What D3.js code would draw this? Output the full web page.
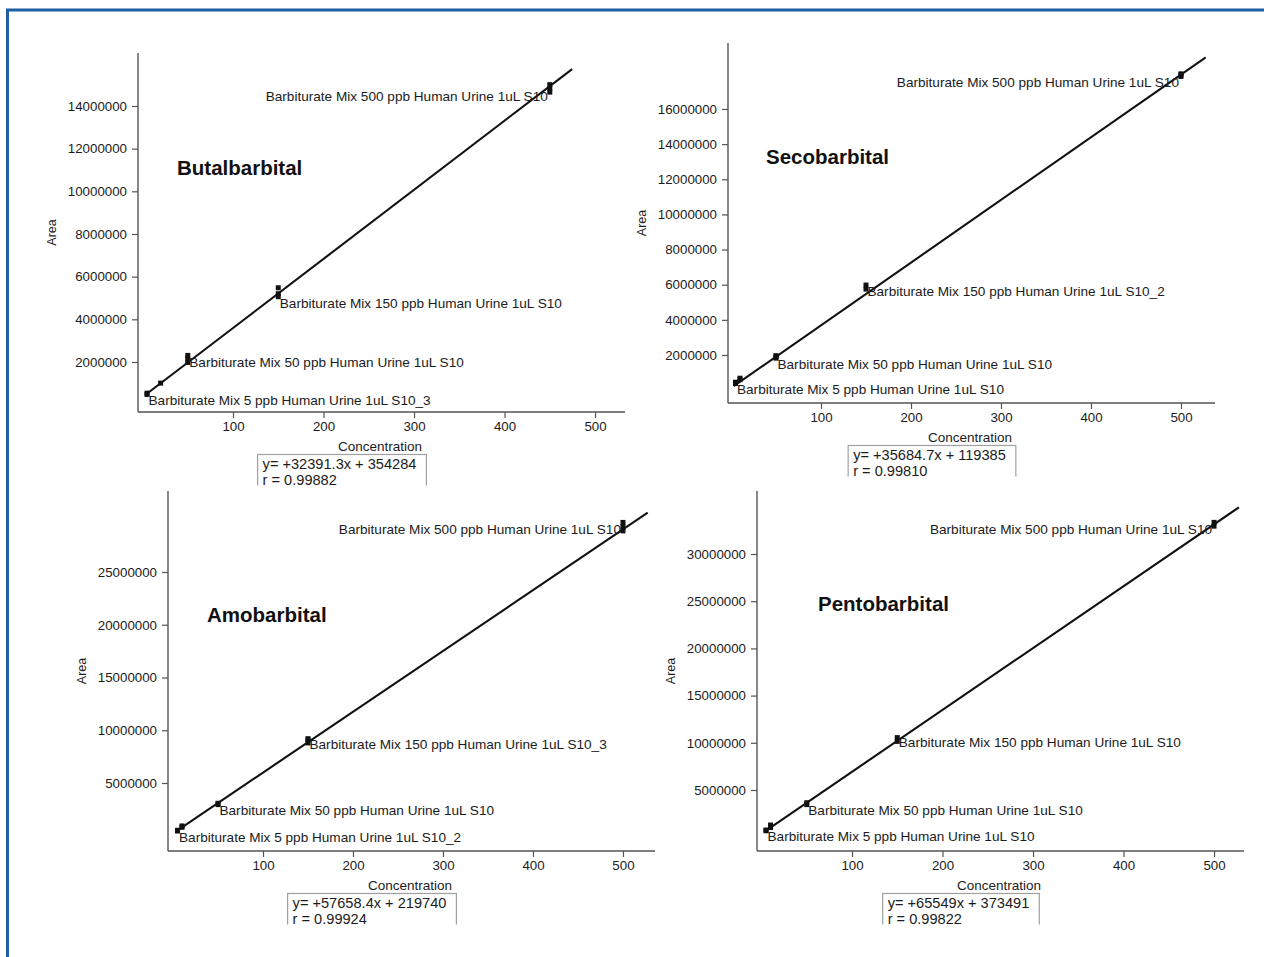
<!DOCTYPE html>
<html>
<head>
<meta charset="utf-8">
<script src="https://cdn.jsdelivr.net/npm/d3@7"></script>
<style>
  body { margin: 0; background: #fff; }
  svg { display: block; }
</style>
</head>
<body>
<svg id="chart" width="1264" height="957"></svg>
<script>
// ---- Calibration data: concentration (ppb) vs. peak area ----
const xTickValues = [100, 200, 300, 400, 500];

const butalConc = [5, 20, 50, 150, 450];
const butalArea = [[480000, 540000], [1010000], [1980000, 2150000, 2310000], [5060000, 5200000, 5480000], [14650000, 14820000, 15000000]];
const butalFit = [32391.3, 354284];
const butalR = "0.99882";
const butalYTicks = [2000000, 4000000, 6000000, 8000000, 10000000, 12000000, 14000000];
const butalLabels = ["Barbiturate Mix 5 ppb Human Urine 1uL S10_3", null, "Barbiturate Mix 50 ppb Human Urine 1uL S10", "Barbiturate Mix 150 ppb Human Urine 1uL S10", "Barbiturate Mix 500 ppb Human Urine 1uL S10"];

const secoConc = [5, 10, 50, 150, 500];
const secoArea = [[380000, 450000], [600000, 680000], [1820000, 1900000, 1960000], [5750000, 5980000], [17850000, 17960000, 18000000]];
const secoFit = [35684.7, 119385];
const secoR = "0.99810";
const secoYTicks = [2000000, 4000000, 6000000, 8000000, 10000000, 12000000, 14000000, 16000000];
const secoLabels = ["Barbiturate Mix 5 ppb Human Urine 1uL S10", null, "Barbiturate Mix 50 ppb Human Urine 1uL S10", "Barbiturate Mix 150 ppb Human Urine 1uL S10_2", "Barbiturate Mix 500 ppb Human Urine 1uL S10"];

const amoConc = [5, 10, 50, 150, 500];
const amoArea = [[450000, 520000], [800000, 930000], [2950000, 3080000], [8800000, 9100000, 9200000], [28900000, 29300000, 29700000]];
const amoFit = [57658.4, 219740];
const amoR = "0.99924";
const amoYTicks = [5000000, 10000000, 15000000, 20000000, 25000000];
const amoLabels = ["Barbiturate Mix 5 ppb Human Urine 1uL S10_2", null, "Barbiturate Mix 50 ppb Human Urine 1uL S10", "Barbiturate Mix 150 ppb Human Urine 1uL S10_3", "Barbiturate Mix 500 ppb Human Urine 1uL S10"];

const pentoConc = [5, 10, 50, 150, 500];
const pentoArea = [[680000, 760000], [1030000, 1290000], [3450000, 3650000], [10150000, 10550000], [32950000, 33350000]];
const pentoFit = [65549, 373491];
const pentoR = "0.99822";
const pentoYTicks = [5000000, 10000000, 15000000, 20000000, 25000000, 30000000];
const pentoLabels = ["Barbiturate Mix 5 ppb Human Urine 1uL S10", null, "Barbiturate Mix 50 ppb Human Urine 1uL S10", "Barbiturate Mix 150 ppb Human Urine 1uL S10", "Barbiturate Mix 500 ppb Human Urine 1uL S10"];

// ---- Panel layout (plot frame in pixels, axis extents, label nudges) ----
const panels = [
  { name: "Butalbarbital", conc: butalConc, area: butalArea, fit: butalFit, r: butalR, yTicks: butalYTicks, labels: butalLabels,
    frame: [138, 625, 53, 412], xDom: [-4.97, 533.1], yDom: [-344000, 16484000],
    title: [177, 167], labelDy: [7, 0, 0, 10.5, 10.8] },
  { name: "Secobarbital", conc: secoConc, area: secoArea, fit: secoFit, r: secoR, yTicks: secoYTicks, labels: secoLabels,
    frame: [728, 1215, 43, 403], xDom: [-3.33, 537.8], yDom: [-732000, 19755000],
    title: [766, 156], labelDy: [5, 0, 7.4, -2, 7.5] },
  { name: "Amobarbital", conc: amoConc, area: amoArea, fit: amoFit, r: amoR, yTicks: amoYTicks, labels: amoLabels,
    frame: [168, 655, 491, 851], xDom: [-5.56, 535.6], yDom: [-1445000, 32678000],
    title: [207, 614], labelDy: [7.6, 0, 7, 2.8, 0] },
  { name: "Pentobarbital", conc: pentoConc, area: pentoArea, fit: pentoFit, r: pentoR, yTicks: pentoYTicks, labels: pentoLabels,
    frame: [757, 1244, 491, 851], xDom: [-4.97, 533.1], yDom: [-1462000, 36674000],
    title: [818, 603], labelDy: [6.4, 0, 7.3, 2, 5.7] }
];

const FONT = "'Liberation Sans', Arial, sans-serif";
const INK = "#1b1b22";
const AXIS = "#555";

const svg = d3.select("#chart");

// Outer blue frame
svg.append("rect")
  .attr("x", 7.5).attr("y", 10)
  .attr("width", 1400).attr("height", 1100)
  .attr("fill", "none")
  .attr("stroke", "#1d5da4")
  .attr("stroke-width", 3);

panels.forEach((p, i) => {
  const [x0, x1, y0, y1] = p.frame;
  const x = d3.scaleLinear().domain(p.xDom).range([x0, x1]);
  const y = d3.scaleLinear().domain(p.yDom).range([y1, y0]);
  const g = svg.append("g");

  // Axes
  const xAxis = d3.axisBottom(x).tickValues(xTickValues).tickSize(6).tickSizeOuter(0).tickPadding(4);
  const yAxis = d3.axisLeft(y).tickValues(p.yTicks).tickSize(6).tickSizeOuter(0).tickPadding(5)
    .tickFormat(d3.format("d"));

  const gx = g.append("g").attr("transform", `translate(0,${y1})`).call(xAxis);
  const gy = g.append("g").attr("transform", `translate(${x0},0)`).call(yAxis);
  [gx, gy].forEach(a => {
    a.select(".domain").attr("stroke", AXIS).attr("stroke-width", 1.4);
    a.selectAll(".tick line").attr("stroke", AXIS).attr("stroke-width", 1.2);
    a.selectAll(".tick text").attr("fill", INK).style("font-family", FONT).style("font-size", "13.3px");
  });
  gx.select(".domain").attr("d", `M${x0},0H${x1}`);
  gy.select(".domain").attr("d", `M0,${y0}V${y1}`);

  // Axis titles
  g.append("text")
    .attr("transform", `translate(${x0 - 86},${(y0 + y1) / 2}) rotate(-90)`)
    .attr("text-anchor", "middle").attr("dominant-baseline", "central")
    .style("font-family", FONT).style("font-size", "12.5px").attr("fill", INK)
    .text("Area");
  g.append("text")
    .attr("x", x0 + 242).attr("y", y1 + 34)
    .attr("text-anchor", "middle").attr("dominant-baseline", "central")
    .style("font-family", FONT).style("font-size", "13.5px").attr("fill", INK)
    .text("Concentration");

  // Regression line
  const [slope, intercept] = p.fit;
  const cMax = d3.max(p.conc) * 1.055;
  const fitPts = [3, cMax].map(c => [x(c), y(slope * c + intercept)]);
  g.append("path")
    .attr("d", d3.line()(fitPts))
    .attr("stroke", "#111").attr("stroke-width", 2.1).attr("fill", "none");

  // Replicate markers
  const pts = [];
  p.conc.forEach((c, k) => p.area[k].forEach(a => pts.push([c, a])));
  g.selectAll("rect.pt").data(pts).join("rect")
    .attr("class", "pt")
    .attr("x", d => x(d[0]) - 2.5).attr("y", d => y(d[1]) - 2.5)
    .attr("width", 5).attr("height", 5)
    .attr("fill", "#111");

  // Sample labels
  const last = p.conc.length - 1;
  p.conc.forEach((c, k) => {
    if (!p.labels[k]) return;
    const isTop = k === last;
    g.append("text")
      .attr("x", x(c) + (isTop ? -2 : 1.5))
      .attr("y", y(slope * c + intercept) + p.labelDy[k])
      .attr("text-anchor", isTop ? "end" : "start")
      .attr("dominant-baseline", "central")
      .style("font-family", FONT).style("font-size", "13.6px").attr("fill", INK)
      .text(p.labels[k]);
  });

  // Compound title
  g.append("text")
    .attr("x", p.title[0]).attr("y", p.title[1])
    .attr("dominant-baseline", "central")
    .style("font-family", FONT).style("font-size", "20.5px").style("font-weight", "bold")
    .attr("fill", "#111")
    .text(p.name);

  // Equation box (cropped at the panel's lower edge)
  const boxTop = y1 + 42.5;
  const clipId = `clip${i}`;
  svg.append("defs").append("clipPath").attr("id", clipId)
    .append("rect").attr("x", x0 - 200).attr("y", boxTop - 5).attr("width", 800).attr("height", 36);
  const box = g.append("g").attr("clip-path", `url(#${clipId})`);
  const eq = box.append("text")
    .attr("y", boxTop + 9).attr("dominant-baseline", "central")
    .style("font-family", FONT).style("font-size", "14.6px").attr("fill", INK)
    .text(`y= +${slope}x + ${intercept}`);
  const rTxt = box.append("text")
    .attr("y", boxTop + 25).attr("dominant-baseline", "central")
    .style("font-family", FONT).style("font-size", "14.6px").attr("fill", INK)
    .text(`r = ${p.r}`);
  const w = eq.node().getComputedTextLength() + 15;
  const bx = x0 + 204 - w / 2;
  eq.attr("x", bx + 5);
  rTxt.attr("x", bx + 5);
  box.insert("rect", "text")
    .attr("x", bx).attr("y", boxTop)
    .attr("width", w).attr("height", 40)
    .attr("fill", "#fff").attr("stroke", "#a0a0a0").attr("stroke-width", 1.2);
});
</script>
</body>
</html>
